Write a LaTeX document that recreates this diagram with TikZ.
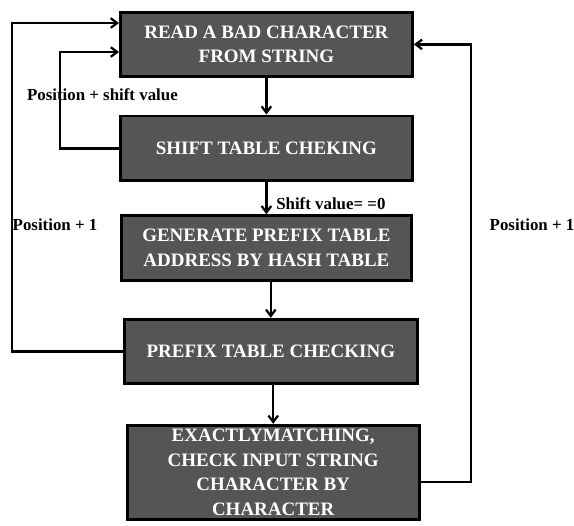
\documentclass[tikz,border=0pt]{standalone}
\usepackage{fontspec}
\setmainfont{Liberation Serif}
\usetikzlibrary{arrows.meta,positioning}
\definecolor{boxgray}{RGB}{85,85,85}

\begin{document}
\begin{tikzpicture}[
    box/.style={
        rectangle,
        draw=black,
        line width=2pt,
        fill=boxgray,
        text=white,
        minimum width=7.3cm,
        minimum height=1.6cm,
        inner ysep=1pt,
        align=center,
        font=\fontsize{13.5}{17.5}\selectfont\bfseries
    },
    lbl/.style={
        inner sep=0pt,
        font=\fontsize{12}{14}\selectfont\bfseries
    },
    arrow/.style={
        -{Straight Barb[length=1.6mm,width=2.4mm,line width=1.6pt]},
        line width=1.8pt
    }
]
\useasboundingbox (0,0) rectangle (14.35,-13.125);

% Steps
\node[box] (read) at (6.66,-1.11) {READ A BAD CHARACTER\\FROM STRING};
\node[box, minimum height=1.62cm, below=0.92cm of read] (shift) {SHIFT TABLE CHEKING};
\node[box, minimum height=1.62cm, minimum width=7.25cm, below=0.8cm of shift] (gen) {GENERATE PREFIX TABLE\\ADDRESS BY HASH TABLE};
\node[box, minimum width=7.32cm, below=0.9cm of gen, xshift=0.11cm] (prefix) {PREFIX TABLE CHECKING};
\node[box, minimum height=2.35cm, inner ysep=0pt, below=0.98cm of prefix, xshift=0.06cm] (exact) {EXACTLYMATCHING,\\CHECK INPUT STRING\\CHARACTER BY\\CHARACTER};

% Loop corners
\coordinate (outerL) at (0.3,-0.575);
\coordinate (innerL) at (1.5,-1.3);
\coordinate (outerR) at (11.78,-6);

% Arrows
\draw[arrow] (read) -- (shift);
\draw[arrow] (shift.south) -- (shift.south |- gen.north);
\draw[arrow] (prefix.north |- gen.south) -- (prefix.north);
\draw[arrow] (exact.north |- prefix.south) -- (exact.north);
\draw[arrow] (prefix.west) -| (outerL) -- (outerL -| read.west);
\draw[arrow] (shift.west) -| (innerL) -- (innerL -| read.west);
\draw[arrow] ([yshift=-0.24cm]exact.east) -| (outerR) |- (read.east);

% Labels
\node[lbl] (lshift) at (2.56,-2.375) {Position + shift value};
\node[lbl] (lposL) at (1.375,-5.625) {Position + 1};
\node[lbl] (lposR) at (13.3,-5.625) {Position + 1};
\node[lbl, anchor=west] (lzero) at (6.9,-5.08) {Shift value= =0};

\end{tikzpicture}
\end{document}
